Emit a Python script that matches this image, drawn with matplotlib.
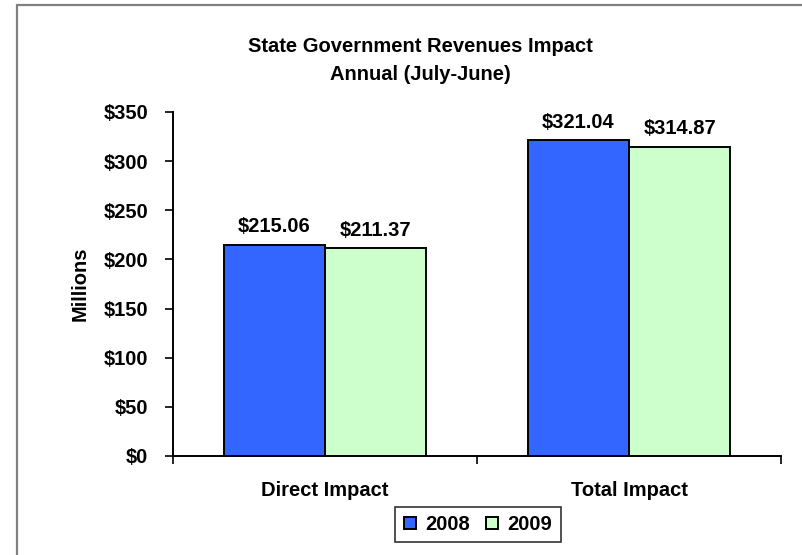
import numpy as np
import matplotlib
matplotlib.use('Agg')
import matplotlib.pyplot as plt
from matplotlib.patches import Rectangle

plt.rcParams['font.family'] = ['Liberation Sans', 'DejaVu Sans']
plt.rcParams['font.weight'] = 'bold'

categories = ["Direct Impact", "Total Impact"]
years = ["2008", "2009"]
rev_2008 = [215.06, 321.04]
rev_2009 = [211.37, 314.87]
y_ticks = [0, 50, 100, 150, 200, 250, 300, 350]

FS = 14.5

fig = plt.figure(figsize=(8.03, 5.55), dpi=100)
ax = fig.add_axes([0.2154, 0.1784, 0.7572, 0.6198])

# outer chart frame
fig.patches.append(Rectangle((17 / 803, -0.1), 1.2, 1.1 - 5 / 555,
                             transform=fig.transFigure, fill=False,
                             edgecolor='#808080', linewidth=1.6))

x = np.arange(len(categories))
w = 1 / 3
b1 = ax.bar(x - w / 2, rev_2008, w, color='#3366FF', edgecolor='black',
            linewidth=1.4, label=years[0])
b2 = ax.bar(x + w / 2, rev_2009, w, color='#CCFFCC', edgecolor='black',
            linewidth=1.4, label=years[1])

for bars in (b1, b2):
    for rect in bars:
        h = rect.get_height()
        ax.annotate(f"${h:.2f}", (rect.get_x() + rect.get_width() / 2, h),
                    xytext=(0, 6), textcoords='offset points',
                    ha='center', va='bottom', fontsize=FS, fontweight='bold')

ax.set_xlim(-0.5, 1.5)
ax.set_ylim(0, 350)
ax.set_yticks(y_ticks)
ax.set_yticklabels([f"${t}" for t in y_ticks], fontsize=FS, fontweight='bold')
ax.set_xticks(x)
ax.set_xticklabels(categories, fontsize=FS, fontweight='bold')
ax.tick_params(axis='x', length=0, pad=18)
ax.set_xticks([-0.5, 0.5, 1.5], minor=True)
ax.tick_params(axis='x', which='minor', length=6, width=1.2, direction='out')
ax.tick_params(axis='y', length=6, width=1.2, direction='out', pad=12)

for s in ('top', 'right'):
    ax.spines[s].set_visible(False)
ax.spines['left'].set_linewidth(1.4)
ax.spines['bottom'].set_linewidth(1.4)

ax.set_ylabel("Millions", fontsize=FS, fontweight='bold', labelpad=10)

fig.text(420 / 803, 1 - 47 / 555, "State Government Revenues Impact",
         ha='center', va='center', fontsize=FS, fontweight='bold')
fig.text(420 / 803, 1 - 75 / 555, "Annual (July-June)",
         ha='center', va='center', fontsize=FS, fontweight='bold')

leg = fig.legend(loc='center', bbox_to_anchor=(478 / 803, 1 - 524.5 / 555),
                 ncol=2, fontsize=FS, frameon=True, fancybox=False,
                 handlelength=0.6, handleheight=0.6, handletextpad=0.5,
                 columnspacing=0.75, borderpad=0.4)
leg.get_frame().set_edgecolor('black')
leg.get_frame().set_linewidth(1.2)
for t in leg.get_texts():
    t.set_fontweight('bold')

fig.savefig('out.png', dpi=100)
